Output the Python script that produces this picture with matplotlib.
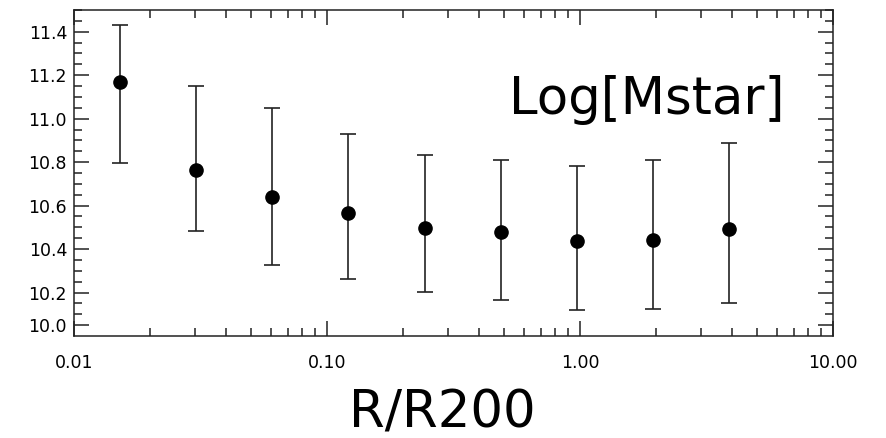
import matplotlib
matplotlib.use("Agg")
import matplotlib.pyplot as plt
import numpy as np

# radial bins (R/R200) and log stellar mass with error bar limits
r_bins = [0.0152, 0.0304, 0.0608, 0.1216, 0.243, 0.486, 0.973, 1.95, 3.89]
log_mstar = [11.17, 10.765, 10.64, 10.567, 10.499, 10.478, 10.435, 10.441, 10.493]
upper = [11.432, 11.150, 11.051, 10.928, 10.831, 10.808, 10.781, 10.808, 10.886]
lower = [10.794, 10.481, 10.328, 10.264, 10.201, 10.167, 10.118, 10.126, 10.152]

x_ticks = [0.01, 0.1, 1.0, 10.0]
x_labels = ["0.01", "0.10", "1.00", "10.00"]
y_ticks = [10.05, 10.2, 10.4, 10.6, 10.8, 11.0, 11.2, 11.4]
y_labels = ["10.0", "10.2", "10.4", "10.6", "10.8", "11.0", "11.2", "11.4"]

y = np.array(log_mstar)
yerr = [y - np.array(lower), np.array(upper) - y]

fig = plt.figure(figsize=(8.86, 4.38), dpi=100)
ax = fig.add_axes([74 / 886, 1 - 336 / 438, (833 - 74) / 886, (336 - 10) / 438])

ax.errorbar(r_bins, y, yerr=yerr, fmt="o", color="black", ecolor="#222222",
            markersize=9.5, elinewidth=1.2, capsize=6, capthick=1.2)

ax.set_xscale("log")
ax.set_xlim(0.01, 10.0)
ax.set_ylim(10.0, 11.5)

ax.set_xticks(x_ticks)
ax.set_xticklabels(x_labels)
ax.set_yticks(y_ticks)
ax.set_yticklabels(y_labels)
ax.set_yticks(np.arange(10.1, 11.5, 0.05), minor=True)

ax.tick_params(which="both", direction="in", top=True, right=True,
               labelsize=12.5, width=1.1, color="#222222")
ax.tick_params(which="major", length=11)
ax.tick_params(which="minor", length=5.5)
ax.tick_params(axis="x", pad=13)
ax.tick_params(axis="y", pad=5)
for s in ax.spines.values():
    s.set_linewidth(1.1)
    s.set_color("#222222")

ax.text(0.573, 0.725, "Log[Mstar]", transform=ax.transAxes, fontsize=37,
        ha="left", va="center")
fig.text(442 / 886, 1 - 414 / 438, "R/R200", fontsize=37, ha="center", va="center")

fig.savefig("out.png", dpi=100)
